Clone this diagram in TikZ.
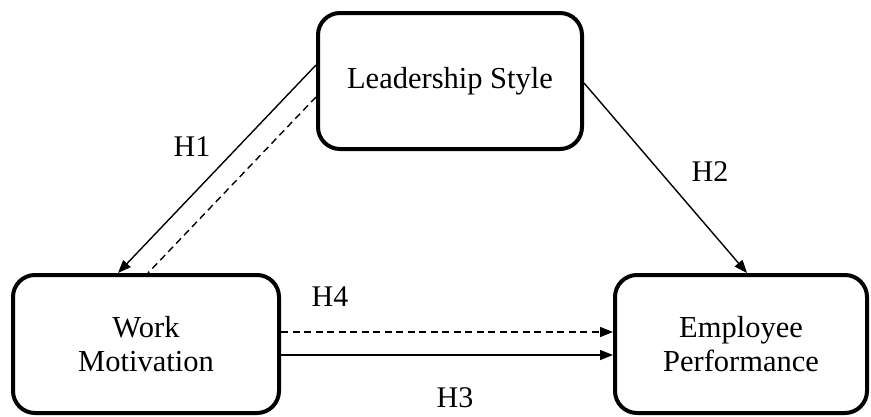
\documentclass[tikz,border=0pt]{standalone}
\usepackage{fontspec}
\setmainfont{Liberation Serif}
\usetikzlibrary{arrows.meta}
\begin{document}
\begin{tikzpicture}[x=1pt,y=-1pt,
  box/.style={draw=black, line width=4pt, rounded corners=22pt, align=center,
    font=\fontsize{30.5}{34}\selectfont, inner sep=0pt},
  lab/.style={font=\fontsize{30}{34}\selectfont, inner sep=0pt},
  conn/.style={line width=1.4pt, -{Triangle[length=13pt,width=10pt]}},
  dconn/.style={line width=1.4pt, dash pattern=on 7pt off 4.5pt}]
\useasboundingbox (0,0) rectangle (871,416);
\node[box, minimum width=264pt, minimum height=136pt] (top) at (450,81) {Leadership Style};
\node[box, minimum width=266pt, minimum height=138pt] (left) at (146,344) {Work\\Motivation};
\node[box, minimum width=252pt, minimum height=138pt] (right) at (741,344) {Employee\\Performance};
% H1
\draw[conn] ([yshift=16pt]top.west) -- ([xshift=-28pt]left.north);
\draw[dconn] ([yshift=-16pt]top.west) -- ([xshift=2pt]left.north);
% H2
\draw[conn] ([yshift=-2pt]top.east) -- ([xshift=6pt]right.north);
% H4 and H3
\draw[dconn, -{Triangle[length=13pt,width=10pt]}] ([yshift=12pt]left.east) -- ([yshift=12pt]right.west);
\draw[conn] ([yshift=-11pt]left.east) -- ([yshift=-11pt]right.west);
\node[lab] (h1) at (192,147) {H1};
\node[lab] (h2) at (710,172) {H2};
\node[lab] (h4) at (330,297) {H4};
\node[lab] (h3) at (455,398) {H3};
\end{tikzpicture}
\end{document}
